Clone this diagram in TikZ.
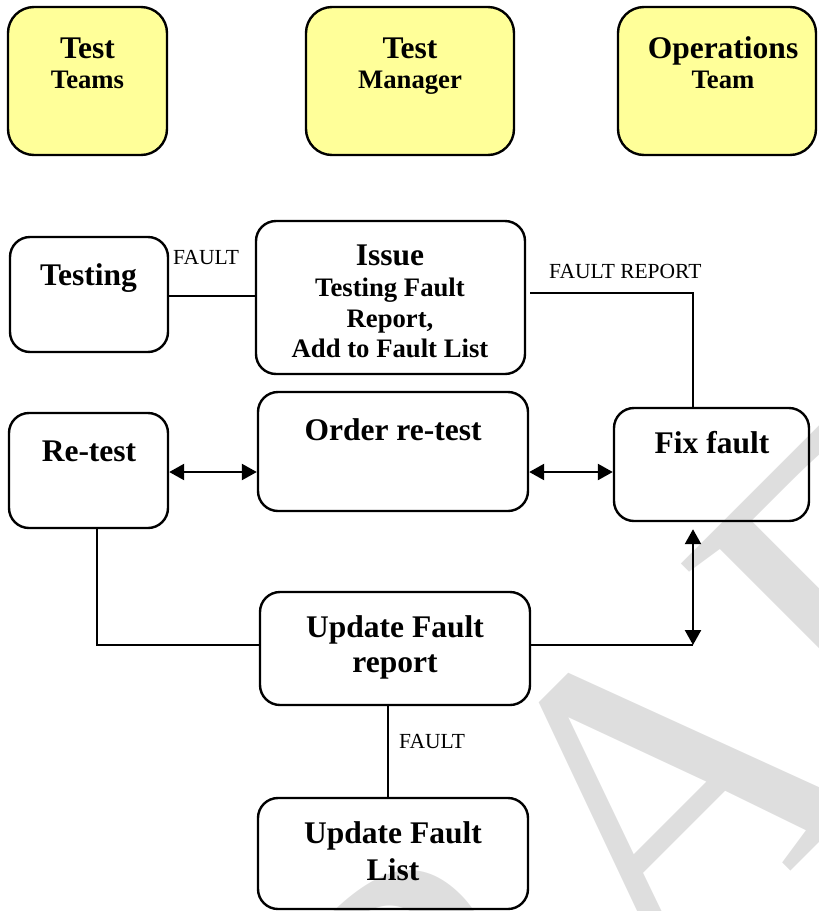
\documentclass[tikz,border=0pt]{standalone}
\usepackage{fontspec}
\setmainfont{Liberation Serif}
\usetikzlibrary{arrows.meta,fit}
\definecolor{paleyellow}{RGB}{255,255,153}
\definecolor{wmgray}{RGB}{222,222,222}
\tikzset{
 rbox/.style={draw=black,line width=2.4pt,rounded corners=20pt,inner sep=0pt},
 ybox/.style={rbox,fill=paleyellow,rounded corners=26pt},
 bigtxt/.style={font=\bfseries\fontsize{31.5}{36}\selectfont,inner sep=0pt,anchor=base},
 smalltxt/.style={font=\bfseries\fontsize{26.7}{30}\selectfont,inner sep=0pt,anchor=base},
 lbl/.style={font=\fontsize{21.5}{24}\selectfont,inner sep=0pt,anchor=base west},
 conn/.style={line width=2.4pt},
 dbl/.style={conn,{Triangle[length=15pt,width=16pt]}-{Triangle[length=15pt,width=16pt]}},
 wm/.style={font=\fontsize{450}{450}\selectfont,text=wmgray,inner sep=0pt,anchor=base west,rotate=45},
}
\begin{document}
\begin{tikzpicture}[x=1pt,y=-1pt]
\useasboundingbox (0,0) rectangle (819,911);
\begin{scope}
\clip (0,0) rectangle (819,911);
\node[wm] (wmark) at (209,1453) {DRAFT};
\end{scope}

% top row
\node[ybox,fit={(8,7)(167,155)}] (teams) {};
\node[bigtxt] (teamsA) at (87.5,58) {Test};
\node[smalltxt] (teamsB) at (87.5,88) {Teams};
\node[ybox,fit={(306,7)(514,155)}] (mgr) {};
\node[bigtxt] (mgrA) at (410,58) {Test};
\node[smalltxt] (mgrB) at (410,88) {Manager};
\node[ybox,fit={(618,7)(816,155)}] (ops) {};
\node[bigtxt] (opsA) at (723,58) {Operations};
\node[smalltxt] (opsB) at (723,88) {Team};

% second row
\node[rbox,fit={(10,237)(168,352)}] (testing) {};
\node[bigtxt] (testingT) at (88.5,285) {Testing};
\node[rbox,fit={(256,221)(525,374)}] (issue) {};
\node[bigtxt] (issueA) at (390,265) {Issue};
\node[smalltxt] (issueB) at (390,296) {Testing Fault};
\node[smalltxt] (issueC) at (390,327) {Report,};
\node[smalltxt] (issueD) at (390,357) {Add to Fault List};

% third row
\node[rbox,fit={(9,413)(168,528)}] (retest) {};
\node[bigtxt] (retestT) at (89,461) {Re-test};
\node[rbox,fit={(258,392)(528,511)}] (order) {};
\node[bigtxt] (orderT) at (393,440) {Order re-test};
\node[rbox,fit={(614,408)(809,521)}] (fix) {};
\node[bigtxt] (fixT) at (712,453) {Fix fault};

% fourth row
\node[rbox,fit={(260,592)(530,705)}] (upd) {};
\node[bigtxt] (updA) at (395,637) {Update Fault};
\node[bigtxt] (updB) at (395,672) {report};
\node[rbox,fit={(258,798)(528,909)}] (ufl) {};
\node[bigtxt] (uflA) at (393,843) {Update Fault};
\node[bigtxt] (uflB) at (393,880) {List};

% connectors
\draw[conn] (testing.east |- 0,296) -- (issue.west |- 0,296);
\node[lbl] (lblA) at (173,264) {FAULT};

\coordinate (frs) at (530,293);
\coordinate (frc) at (693,293);
\draw[conn] (frs) -- (frc) -- (frc |- fix.north);
\node[lbl] (lblB) at (549,278) {FAULT REPORT};

\coordinate (ay) at (0,472);
\draw[dbl] (retest.east |- ay) -- (order.west |- ay);
\draw[dbl] (order.east |- ay) -- (fix.west |- ay);

\coordinate (rc) at (97,645);
\draw[conn] (rc |- retest.south) -- (rc) -- (rc -| upd.west);

\coordinate (fc) at (693,645);
\draw[conn] (upd.east |- fc) -- (fc);
\draw[dbl,shorten >=7pt] (fc) -- (fc |- fix.south);

\coordinate (uc) at (388,0);
\draw[conn] (uc |- upd.south) -- (uc |- ufl.north);
\node[lbl] (lblC) at (399,748) {FAULT};
\end{tikzpicture}
\end{document}
